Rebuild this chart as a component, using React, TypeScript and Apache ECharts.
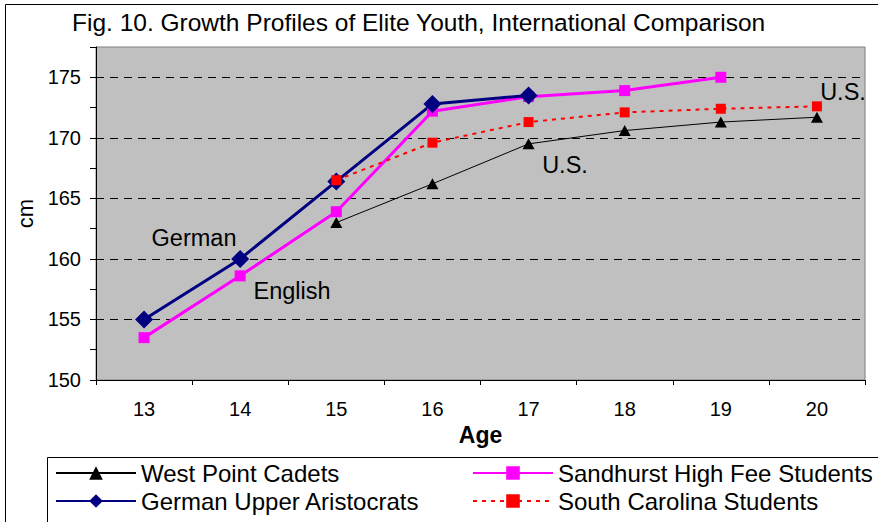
import React, { useEffect, useRef } from "react";
import * as echarts from "echarts";

const ages = ["13", "14", "15", "16", "17", "18", "19", "20"];
const westPoint = [null, null, 163.0, 166.2, 169.5, 170.6, 171.3, 171.7];
const sandhurst = [153.5, 158.6, 163.9, 172.2, 173.4, 173.9, 175.0, null];
const german = [155.0, 160.0, 166.4, 172.8, 173.5, null, null, null];
const southCarolina = [null, null, 166.5, 169.6, 171.3, 172.1, 172.4, 172.6];

const titleText = "Fig. 10. Growth Profiles of Elite Youth, International Comparison";
const FONT = "'Liberation Sans', Arial, sans-serif";

export default function App() {
  const ref = useRef<HTMLDivElement>(null);
  useEffect(() => {
    if (!ref.current) return;
    const chart = echarts.init(ref.current, null, { renderer: "svg" });
    const txt = (text: string, x: number, y: number, size = 23.5, extra: any = {}) => ({
      type: "text",
      x,
      y,
      silent: true,
      z: 10,
      style: {
        text,
        fill: "#000",
        font: `${size}px ${FONT}`,
        textAlign: "center",
        textVerticalAlign: "middle",
        ...extra,
      },
    });
    const legendCommon = {
      orient: "vertical",
      top: 459,
      padding: 0,
      itemGap: 0,
      itemWidth: 80,
      itemHeight: 17,
      selectedMode: false,
      textStyle: { fontSize: 24, color: "#000", lineHeight: 28, fontFamily: FONT },
    };
    chart.setOption({
      animation: false,
      backgroundColor: "#fff",
      textStyle: { fontFamily: FONT },
      title: {
        text: titleText,
        left: 72,
        top: 10,
        padding: 0,
        textStyle: { fontSize: 24.5, fontWeight: "normal", color: "#000", fontFamily: FONT },
      },
      grid: {
        left: 96,
        top: 47,
        width: 769,
        height: 333,
        show: true,
        backgroundColor: "#C0C0C0",
        borderColor: "#808080",
        borderWidth: 1,
      },
      legend: [
        { ...legendCommon, data: ["West Point Cadets", "German Upper Aristocrats"], left: 55 },
        { ...legendCommon, data: ["Sandhurst High Fee Students", "South Carolina Students"], left: 472 },
      ],
      xAxis: {
        type: "category",
        data: ages,
        boundaryGap: true,
        axisLine: { show: true, lineStyle: { color: "#000", width: 1 } },
        axisTick: { show: true, length: 5, lineStyle: { color: "#000" } },
        axisLabel: { fontSize: 20, color: "#000", margin: 19, fontFamily: FONT },
        splitLine: { show: false },
        name: "Age",
        nameLocation: "middle",
        nameGap: 40,
        nameTextStyle: { fontSize: 23, fontWeight: "bold", color: "#000", fontFamily: FONT },
      },
      yAxis: [
        {
          type: "value",
          min: 150,
          max: 177.5,
          interval: 2.5,
          axisLine: { show: true, lineStyle: { color: "#000", width: 1 } },
          axisTick: { show: true, length: 6, lineStyle: { color: "#000" } },
          axisLabel: {
            fontSize: 20,
            color: "#000",
            margin: 15,
            fontFamily: FONT,
            formatter: (v: number) => (v % 5 === 0 ? String(v) : ""),
          },
          splitLine: { show: false },
          name: "cm",
          nameLocation: "middle",
          nameRotate: 90,
          nameGap: 58,
          nameTextStyle: { fontSize: 22, color: "#000", fontFamily: FONT },
        },
        {
          type: "value",
          min: 150,
          max: 177.5,
          interval: 5,
          position: "left",
          axisLine: { show: false },
          axisTick: { show: false },
          axisLabel: { show: false },
          splitLine: {
            show: true,
            showMinLine: false,
            showMaxLine: false,
            lineStyle: { color: "#000", width: 1, type: [8, 6] },
          },
        },
      ],
      series: [
        {
          name: "West Point Cadets",
          type: "line",
          data: westPoint,
          symbol: "triangle",
          symbolSize: [12, 11],
          color: "#000000",
          itemStyle: { color: "#000000" },
          lineStyle: { color: "#000000", width: 1 },
        },
        {
          name: "Sandhurst High Fee Students",
          type: "line",
          data: sandhurst,
          symbol: "rect",
          symbolSize: 11,
          color: "#FF00FF",
          itemStyle: { color: "#FF00FF" },
          lineStyle: { color: "#FF00FF", width: 3 },
        },
        {
          name: "German Upper Aristocrats",
          type: "line",
          data: german,
          symbol: "diamond",
          symbolSize: 18,
          color: "#000080",
          itemStyle: { color: "#000080" },
          lineStyle: { color: "#000080", width: 3 },
        },
        {
          name: "South Carolina Students",
          type: "line",
          data: southCarolina,
          symbol: "rect",
          symbolSize: 10,
          color: "#FF0000",
          itemStyle: { color: "#FF0000" },
          lineStyle: { color: "#FF0000", width: 2, type: [4, 5] },
        },
      ],
      graphic: [
        {
          type: "rect",
          silent: true,
          z: -1,
          shape: { x: 5.5, y: 4.5, width: 1000, height: 1000 },
          style: { fill: "none", stroke: "#000", lineWidth: 1 },
        },
        {
          type: "rect",
          silent: true,
          z: 0,
          shape: { x: 47.5, y: 457.5, width: 1000, height: 200 },
          style: { fill: "none", stroke: "#000", lineWidth: 1 },
        },
        txt("German", 194, 238),
        txt("English", 292, 291),
        txt("U.S.", 565, 165),
        txt("U.S.", 843, 92),
      ],
    });
    return () => chart.dispose();
  }, []);
  return (
    <div
      ref={ref}
      style={{ position: "fixed", left: 0, top: 0, width: 878, height: 522 }}
    />
  );
}
